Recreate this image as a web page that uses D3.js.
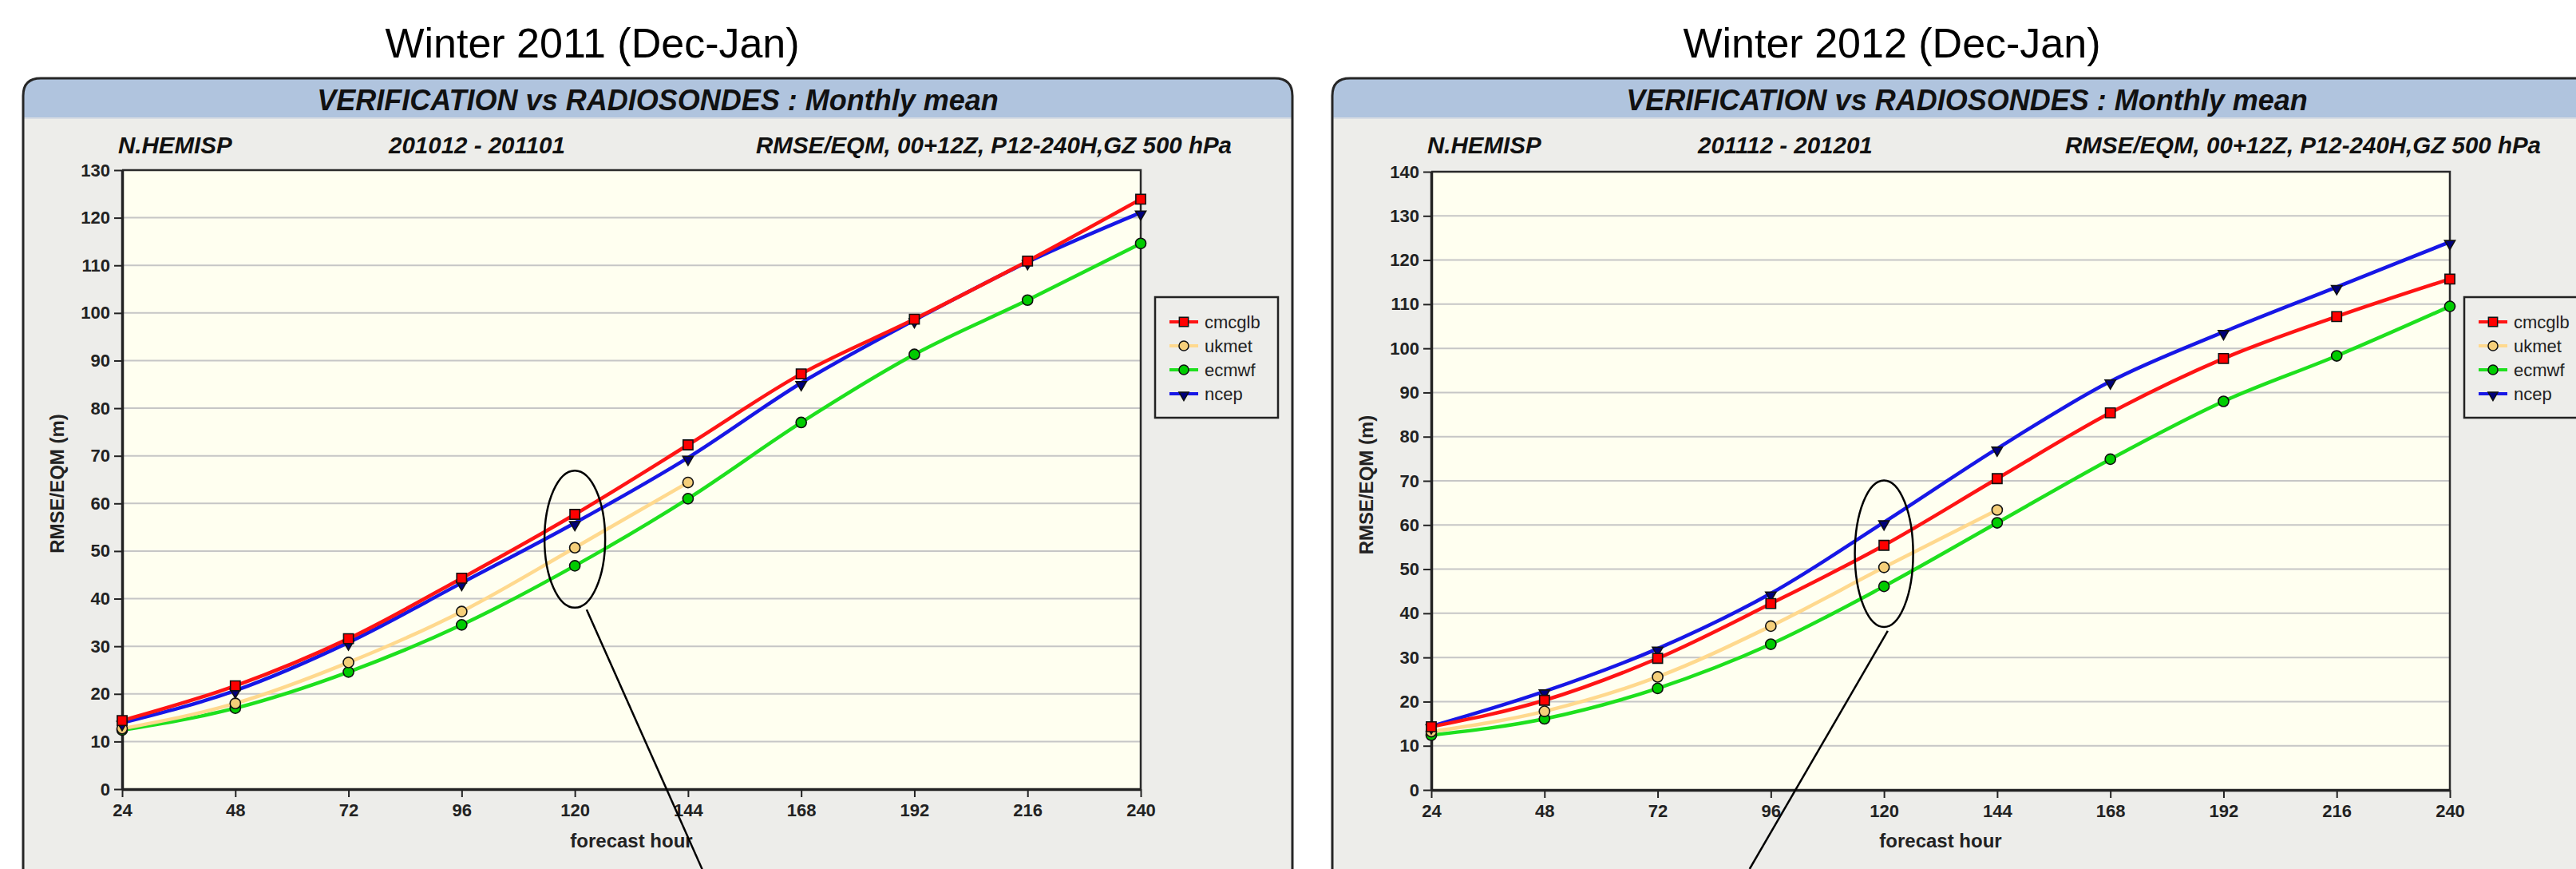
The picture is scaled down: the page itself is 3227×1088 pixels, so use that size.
<!DOCTYPE html>
<html>
<head>
<meta charset="utf-8">
<script src="https://cdn.jsdelivr.net/npm/d3@7"></script>
<style>
  body { margin: 0; background: #fff; }
  svg { display: block; }
  text { font-family: "Liberation Sans", Arial, Helvetica, sans-serif; }
</style>
</head>
<body>
<svg id="chart" width="3227" height="1088"></svg>
<script>
// forecast hours on the x axis
const hours = [24, 48, 72, 96, 120, 144, 168, 192, 216, 240];
const seriesNames = ['cmcglb', 'ukmet', 'ecmwf', 'ncep'];

// Winter 2011 (201012 - 201101), RMSE of GZ 500 hPa in metres
const cmcglb2011 = [14.4, 21.7, 31.6, 44.3, 57.7, 72.3, 87.2, 98.7, 110.9, 123.9];
const ukmet2011  = [12.7, 18.0, 26.6, 37.3, 50.7, 64.4, null, null, null, null];
const ecmwf2011  = [12.4, 17.0, 24.6, 34.5, 46.9, 61.0, 77.0, 91.3, 102.7, 114.6];
const ncep2011   = [13.9, 20.7, 30.8, 43.3, 55.9, 69.6, 85.3, 98.5, 110.7, 121.1];

// Winter 2012 (201112 - 201201)
const cmcglb2012 = [14.3, 20.3, 29.8, 42.2, 55.4, 70.5, 85.4, 97.7, 107.2, 115.7];
const ukmet2012  = [13.2, 17.8, 25.6, 37.1, 50.4, 63.4, null, null, null, null];
const ecmwf2012  = [12.4, 16.1, 23.0, 33.0, 46.1, 60.5, 74.9, 88.0, 98.3, 109.5];
const ncep2012   = [14.4, 22.3, 32.0, 44.5, 60.6, 77.3, 92.5, 103.7, 113.9, 124.1];

const yTicks2011 = [0, 10, 20, 30, 40, 50, 60, 70, 80, 90, 100, 110, 120, 130];
const yTicks2012 = [0, 10, 20, 30, 40, 50, 60, 70, 80, 90, 100, 110, 120, 130, 140];

// hand-drawn circle around day 5 and its pointer (in data units)
const ring2011 = { hour: 120, mid: 52.5, half: 14.4, tailFrom: [122.5, 37.7], tailTo: [147, -16.8] };
const ring2012 = { hour: 120, mid: 53.5, half: 16.6, tailFrom: [120.8, 36.0], tailTo: [91.5, -17.9] };

const STYLE = {
  cmcglb: { line: '#ff1414', fill: '#ff0000', sym: d3.symbolSquare,   size: 150, rot: 0 },
  ukmet:  { line: '#ffd98e', fill: '#f5cf7a', sym: d3.symbolCircle,   size: 135, rot: 0 },
  ecmwf:  { line: '#1ee01e', fill: '#00cc00', sym: d3.symbolCircle,   size: 135, rot: 0 },
  ncep:   { line: '#1717e6', fill: '#00007a', sym: d3.symbolTriangle, size: 75,  rot: 180 },
};
const drawOrder = ['ecmwf', 'ukmet', 'ncep', 'cmcglb'];

const svg = d3.select('#chart');

function drawPanel(opts) {
  const g = svg.append('g').attr('transform', `translate(${opts.dx},0)`);
  const box = { l: 29, r: 1619, t: 98, b: 1110, rad: 22, band: 148 };
  const plot = { l: 153, r: 1429, t: opts.top, b: opts.bottom };

  const topShape = (bottom) =>
    `M${box.l},${bottom} L${box.l},${box.t + box.rad} Q${box.l},${box.t} ${box.l + box.rad},${box.t} ` +
    `L${box.r - box.rad},${box.t} Q${box.r},${box.t} ${box.r},${box.t + box.rad} L${box.r},${bottom} Z`;

  g.append('path').attr('d', topShape(box.b)).attr('fill', '#ededea');
  g.append('path').attr('d', topShape(box.band)).attr('fill', '#b0c4de');
  g.append('line').attr('x1', box.l).attr('x2', box.r).attr('y1', box.band).attr('y2', box.band)
    .attr('stroke', '#d8dde3').attr('stroke-width', 2);
  g.append('path').attr('d', topShape(box.b)).attr('fill', 'none')
    .attr('stroke', '#262626').attr('stroke-width', 3);

  g.append('text').attr('x', (box.l + box.r) / 2).attr('y', 138)
    .attr('text-anchor', 'middle').attr('font-size', 36).attr('font-weight', 'bold')
    .attr('font-style', 'italic').attr('fill', '#111')
    .text('VERIFICATION vs RADIOSONDES : Monthly mean');

  const sub = [['N.HEMISP', 148], [opts.period, 487], ['RMSE/EQM, 00+12Z, P12-240H,GZ 500 hPa', 947]];
  sub.forEach(([t, x]) => g.append('text').attr('x', x).attr('y', 192)
    .attr('font-size', 29.5).attr('font-weight', 'bold').attr('font-style', 'italic')
    .attr('fill', '#111').text(t));

  // outside title above the panel
  svg.append('text').attr('x', opts.titleX).attr('y', 72).attr('text-anchor', 'middle')
    .attr('font-size', 52).attr('fill', '#000').text(opts.title);

  const x = d3.scaleLinear().domain([24, 240]).range([plot.l, plot.r]);
  const y = d3.scaleLinear().domain([0, opts.yMax]).range([plot.b, plot.t]);

  g.append('rect').attr('x', plot.l).attr('y', plot.t)
    .attr('width', plot.r - plot.l).attr('height', plot.b - plot.t).attr('fill', '#fffff0');

  g.append('g').selectAll('line').data(opts.yTicks.filter(v => v > 0 && v < opts.yMax)).join('line')
    .attr('x1', plot.l).attr('x2', plot.r).attr('y1', d => y(d)).attr('y2', d => y(d))
    .attr('stroke', '#c6c6c6').attr('stroke-width', 2);

  // frame top + right
  g.append('path').attr('d', `M${plot.l},${plot.t} L${plot.r},${plot.t} L${plot.r},${plot.b}`)
    .attr('fill', 'none').attr('stroke', '#2a2a2a').attr('stroke-width', 2.5);

  const xAxis = g.append('g').attr('transform', `translate(0,${plot.b})`)
    .call(d3.axisBottom(x).tickValues(hours).tickSize(10).tickSizeOuter(0).tickPadding(8));
  const yAxis = g.append('g').attr('transform', `translate(${plot.l},0)`)
    .call(d3.axisLeft(y).tickValues(opts.yTicks).tickSize(10).tickSizeOuter(0).tickPadding(5));
  [xAxis, yAxis].forEach(a => {
    a.select('.domain').attr('stroke', '#222').attr('stroke-width', 3.5);
    a.selectAll('.tick line').attr('stroke', '#222').attr('stroke-width', 2);
    a.selectAll('.tick text').attr('font-size', 22).attr('font-weight', 'bold')
      .attr('fill', '#222').style('font-family', '"Liberation Sans", Arial, sans-serif');
  });

  g.append('text').attr('x', (plot.l + plot.r) / 2).attr('y', 1061).attr('text-anchor', 'middle')
    .attr('font-size', 24).attr('font-weight', 'bold').attr('fill', '#222').text('forecast hour');
  g.append('text').attr('transform', `translate(80,${(plot.t + plot.b) / 2 + 5}) rotate(-90)`)
    .attr('text-anchor', 'middle').attr('font-size', 24).attr('font-weight', 'bold')
    .attr('fill', '#222').text('RMSE/EQM (m)');

  const line = d3.line().defined(d => d.v != null)
    .x(d => x(d.h)).y(d => y(d.v)).curve(d3.curveMonotoneX);

  const rows = name => hours.map((h, i) => ({ h, v: opts.series[name][i] })).filter(d => d.v != null);

  drawOrder.forEach(name => {
    g.append('path').datum(rows(name)).attr('d', line).attr('fill', 'none')
      .attr('stroke', STYLE[name].line).attr('stroke-width', 4.5).attr('stroke-linejoin', 'round');
  });
  drawOrder.forEach(name => {
    const s = STYLE[name];
    g.append('g').selectAll('path').data(rows(name)).join('path')
      .attr('d', d3.symbol().type(s.sym).size(s.size))
      .attr('transform', d => `translate(${x(d.h)},${y(d.v) + (s.rot ? 2 : 0)}) rotate(${s.rot})`)
      .attr('fill', s.fill).attr('stroke', '#111').attr('stroke-width', 1.6);
  });

  // legend
  const lg = g.append('g');
  lg.append('rect').attr('x', 1447).attr('y', 372).attr('width', 154).attr('height', 151)
    .attr('fill', '#ededea').attr('stroke', '#222').attr('stroke-width', 2.5);
  seriesNames.forEach((name, i) => {
    const s = STYLE[name];
    const ly = 403 + i * 30;
    lg.append('line').attr('x1', 1465).attr('x2', 1501).attr('y1', ly).attr('y2', ly)
      .attr('stroke', s.line).attr('stroke-width', 4);
    lg.append('path').attr('d', d3.symbol().type(s.sym).size(s.size * 0.85))
      .attr('transform', `translate(1483,${ly + (s.rot ? 1.5 : 0)}) rotate(${s.rot})`)
      .attr('fill', s.fill).attr('stroke', '#111').attr('stroke-width', 1.5);
    lg.append('text').attr('x', 1509).attr('y', ly + 8).attr('font-size', 22)
      .attr('fill', '#222').text(name);
  });

  // annotation ring and pointer
  const r = opts.ring;
  g.append('ellipse').attr('cx', x(r.hour)).attr('cy', y(r.mid))
    .attr('rx', opts.ringRx).attr('ry', y(r.mid - r.half) - y(r.mid))
    .attr('fill', 'none').attr('stroke', '#000').attr('stroke-width', 2.5);
  g.append('line').attr('x1', x(r.tailFrom[0])).attr('y1', y(r.tailFrom[1]))
    .attr('x2', x(r.tailTo[0])).attr('y2', y(r.tailTo[1]))
    .attr('stroke', '#000').attr('stroke-width', 2.5);
}

drawPanel({
  dx: 0, title: 'Winter 2011 (Dec-Jan)', titleX: 742, period: '201012 - 201101',
  top: 213, bottom: 988, yMax: 130, yTicks: yTicks2011, ring: ring2011, ringRx: 38,
  series: { cmcglb: cmcglb2011, ukmet: ukmet2011, ecmwf: ecmwf2011, ncep: ncep2011 },
});
drawPanel({
  dx: 1640, title: 'Winter 2012 (Dec-Jan)', titleX: 2370, period: '201112 - 201201',
  top: 215, bottom: 989, yMax: 140, yTicks: yTicks2012, ring: ring2012, ringRx: 36.5,
  series: { cmcglb: cmcglb2012, ukmet: ukmet2012, ecmwf: ecmwf2012, ncep: ncep2012 },
});
</script>
</body>
</html>
